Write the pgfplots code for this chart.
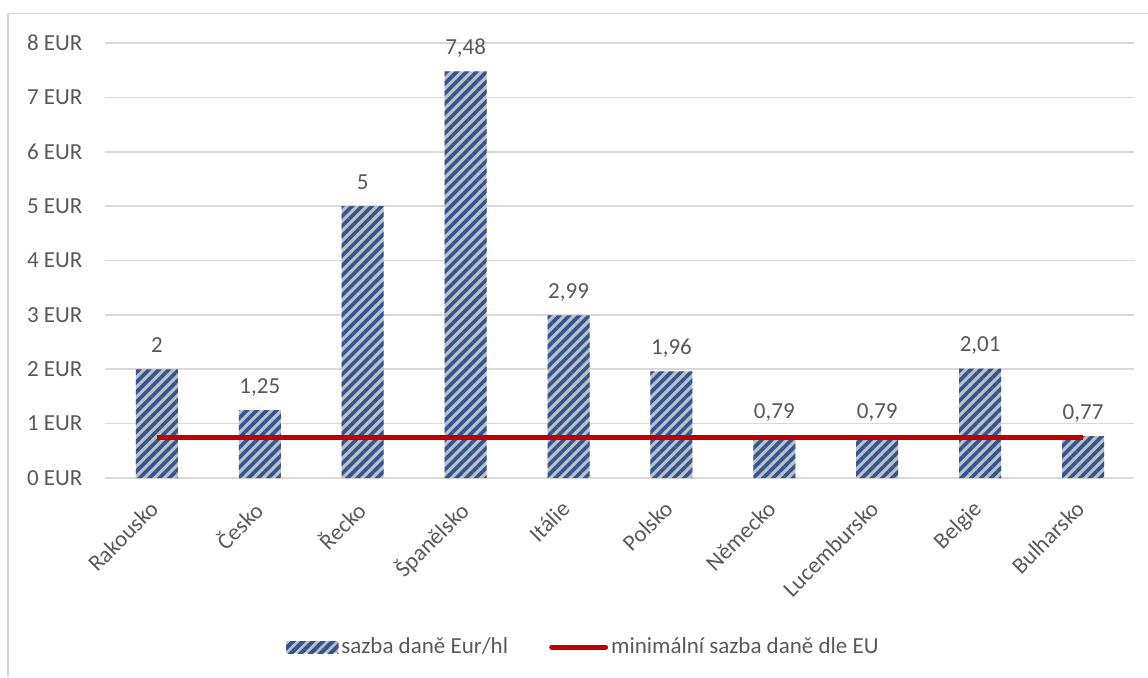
\documentclass[border=0pt]{standalone}
\usepackage{pgfplots}
\pgfplotsset{compat=1.18}
\usepackage{fontspec}
\setmainfont{Carlito}
\usetikzlibrary{patterns.meta}
\definecolor{txt}{HTML}{595959}
\definecolor{grd}{HTML}{D9D9D9}
\definecolor{barg}{HTML}{BFBFBF}
\definecolor{barb}{HTML}{2F5597}
\definecolor{eured}{HTML}{C00000}
\begin{document}
\begin{tikzpicture}[font=\fontsize{11.5pt}{13pt}\selectfont]
\useasboundingbox (0,0) rectangle (574pt,-338.5pt);
\draw[grd, line width=0.7pt] (4pt,-338.5pt) -- (4pt,-6.8pt) -- (574pt,-6.8pt);
\begin{axis}[
  at={(52.75pt,-239pt)}, anchor=south west,
  scale only axis, width=514.5pt, height=217.5pt,
  xmin=-0.5, xmax=9.5, ymin=0, ymax=8,
  axis line style={draw=none},
  major tick length=0pt,
  ymajorgrids, grid style={grd, line width=0.8pt},
  ytick={0,1,...,8},
  yticklabels={0 EUR,1 EUR,2 EUR,3 EUR,4 EUR,5 EUR,6 EUR,7 EUR,8 EUR},
  xtick={0,1,...,9},
  xticklabels={Rakousko,Česko,Řecko,Španělsko,Itálie,Polsko,Německo,Lucembursko,Belgie,Bulharsko},
  tick label style={text=txt, font=\fontsize{11.5pt}{13pt}\selectfont},
  yticklabel style={xshift=-8pt},
  xticklabel style={xshift=-4.3pt, yshift=-5.6pt, rotate=45, anchor=north east},
  legend style={at={(0.465,-0.3885)}, anchor=center, draw=none, fill=none,
    legend columns=2, text=txt, font=\fontsize{11.5pt}{13pt}\selectfont,
    nodes={inner sep=1.5pt},
    /tikz/every even column/.append style={column sep=19pt}},
  legend cell align=left,
]
\addplot[ybar, bar width=21pt, fill=barg, draw=none,
  postaction={pattern={Lines[angle=45,distance=3.5pt,line width=1.8pt]}, pattern color=barb},
  nodes near coords, point meta=explicit symbolic,
  every node near coord/.append style={text=txt, anchor=base, yshift=8.5pt, font=\fontsize{11.5pt}{13pt}\selectfont},
  legend image code/.code={
    \fill[barg] (0pt,-3pt) rectangle (26pt,3pt);
    \fill[pattern={Lines[angle=45,distance=3.5pt,line width=1.8pt]}, pattern color=barb] (0pt,-3pt) rectangle (26pt,3pt);}
] coordinates {
(0,2) [2]
(1,1.25) [{1,25}]
(2,5) [5]
(3,7.48) [{7,48}]
(4,2.99) [{2,99}]
(5,1.96) [{1,96}]
(6,0.79) [{0,79}]
(7,0.79) [{0,79}]
(8,2.01) [{2,01}]
(9,0.77) [{0,77}]
};
\addlegendentry{sazba daně Eur/hl}
\addplot[eured, line width=2.5pt, mark=none,
  legend image code/.code={\draw[eured, line width=2.5pt, line cap=round] (1pt,0pt) -- (28pt,0pt);}
] coordinates {(0,0.75) (9,0.75)};
\addlegendentry{minimální sazba daně dle EU}
\end{axis}
\end{tikzpicture}
\end{document}
